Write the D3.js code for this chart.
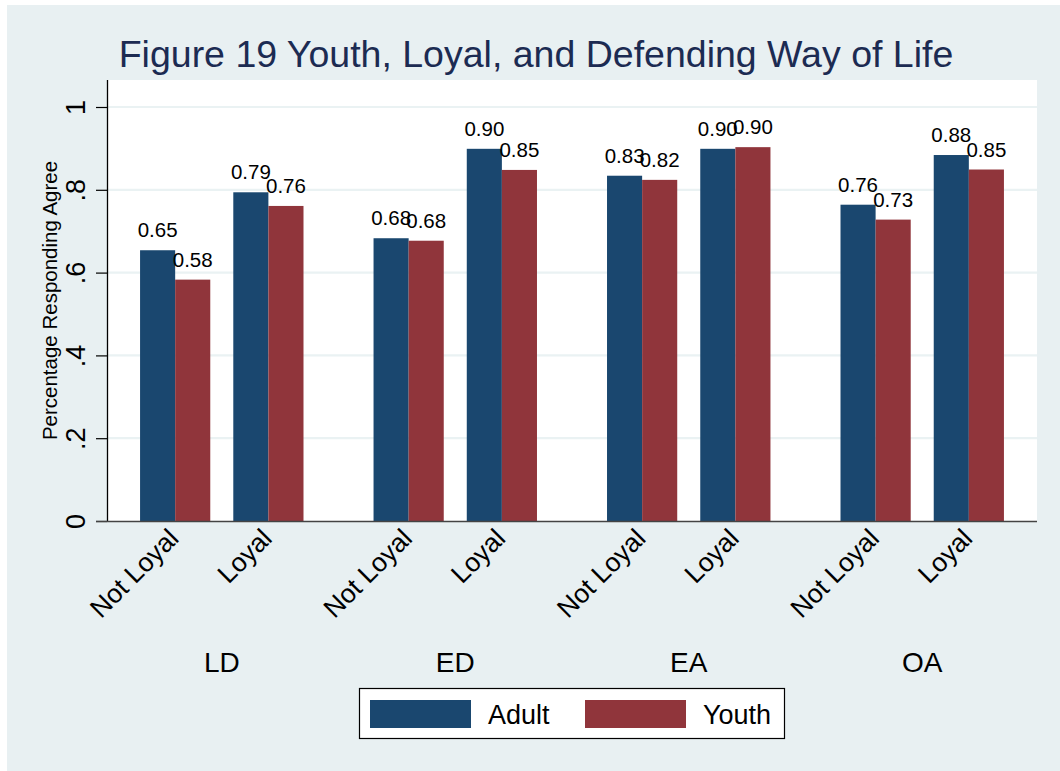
<!DOCTYPE html>
<html>
<head>
<meta charset="utf-8">
<script src="https://cdn.jsdelivr.net/npm/d3@7/dist/d3.min.js"></script>
<style>
  html, body { margin: 0; padding: 0; background: #ffffff; }
  svg { display: block; font-family: "Liberation Sans", Arial, Helvetica, sans-serif; }
</style>
</head>
<body>
<svg id="chart" width="1060" height="771"></svg>
<script>
// ---- data ----
const groups = ["LD", "ED", "EA", "OA"];
const loyalty = ["Not Loyal", "Loyal"];
const series = ["Adult", "Youth"];
// ordered: LD NotLoyal, LD Loyal, ED NotLoyal, ED Loyal, EA ..., OA ...
const adultValues = [0.654, 0.794, 0.683, 0.899, 0.834, 0.899, 0.764, 0.884];
const youthValues = [0.583, 0.761, 0.677, 0.848, 0.824, 0.903, 0.728, 0.849];
const yTicks = [0, 0.2, 0.4, 0.6, 0.8, 1];
const yTickLabels = ["0", ".2", ".4", ".6", ".8", "1"];
const titleText = "Figure 19 Youth, Loyal, and Defending Way of Life";
const yTitle = "Percentage Responding Agree";

const colors = { Adult: "#1a476f", Youth: "#90353b" };

const rows = [];
groups.forEach((g, gi) => {
  loyalty.forEach((l, li) => {
    const idx = gi * loyalty.length + li;
    rows.push({ group: g, loyal: l, Adult: adultValues[idx], Youth: youthValues[idx] });
  });
});

const svg = d3.select("#chart");
const W = 1060, H = 771;
const plot = { left: 107, right: 1037, top: 80, bottom: 521 };

// background
svg.append("rect").attr("x", 7).attr("y", 5).attr("width", W - 7).attr("height", H - 5)
  .attr("fill", "#e8f0f2");
svg.append("rect").attr("x", plot.left).attr("y", plot.top)
  .attr("width", plot.right - plot.left).attr("height", plot.bottom - plot.top)
  .attr("fill", "#ffffff");

// scales
const y = d3.scaleLinear().domain([0, 1]).range([plot.bottom, 107]);
const x0 = d3.scaleBand().domain(groups).range([plot.left, plot.right])
  .paddingInner(0.3).paddingOuter(0.1416);
const x1 = d3.scaleBand().domain(loyalty).range([0, x0.bandwidth()])
  .paddingInner(0.247).paddingOuter(0);
const x2 = d3.scaleBand().domain(series).range([0, x1.bandwidth()]).padding(0);

// grid
svg.append("g").selectAll("line").data(yTicks.filter(t => t > 0)).join("line")
  .attr("x1", plot.left).attr("x2", plot.right)
  .attr("y1", d => y(d)).attr("y2", d => y(d))
  .attr("stroke", "#eaf2f3").attr("stroke-width", 2.2);

// bars
const gGroups = svg.append("g").selectAll("g").data(rows).join("g")
  .attr("transform", d => `translate(${x0(d.group) + x1(d.loyal)},0)`);
gGroups.selectAll("rect").data(d => series.map(s => ({ s, v: d[s] }))).join("rect")
  .attr("x", d => x2(d.s)).attr("width", x2.bandwidth())
  .attr("y", d => y(d.v)).attr("height", d => y(0) - y(d.v))
  .attr("fill", d => colors[d.s]);
gGroups.selectAll("text").data(d => series.map(s => ({ s, v: d[s] }))).join("text")
  .attr("x", d => x2(d.s) + x2.bandwidth() / 2)
  .attr("y", d => y(d.v) - 13)
  .attr("text-anchor", "middle")
  .attr("font-size", 20.5).attr("fill", "#000")
  .text(d => d3.format(".2f")(d.v));

// y axis
const yAxis = d3.axisLeft(y).tickValues(yTicks)
  .tickFormat((d, i) => yTickLabels[i]).tickSize(11).tickPadding(0);
const gy = svg.append("g").attr("transform", `translate(${plot.left},0)`).call(yAxis);
gy.select(".domain").attr("stroke", "#000").attr("stroke-width", 1.3)
  .attr("d", `M0.5,${plot.top}V${plot.bottom}`);
gy.selectAll(".tick line").attr("stroke", "#000").attr("stroke-width", 1.2);
gy.selectAll(".tick text")
  .attr("font-size", 27).attr("fill", "#000")
  .attr("text-anchor", "middle")
  .attr("x", null).attr("dy", null)
  .attr("transform", "translate(-22,0) rotate(-90)");

// x axis line
svg.append("line").attr("x1", plot.left - 11).attr("x2", plot.right)
  .attr("y1", plot.bottom + 0.5).attr("y2", plot.bottom + 0.5)
  .attr("stroke", "#444").attr("stroke-width", 1.5);

// x sub-category axes
groups.forEach(g => {
  const ax = d3.axisBottom(x1).tickSize(0).tickPadding(0);
  const gx = svg.append("g").attr("transform", `translate(${x0(g)},${plot.bottom})`).call(ax);
  gx.select(".domain").remove();
  gx.selectAll(".tick text")
    .attr("font-size", 26.5).attr("fill", "#000")
    .attr("text-anchor", "end").attr("y", null).attr("dy", null)
    .attr("transform", "translate(5,19) rotate(-45)");
});

// group axis
const gAx = d3.axisBottom(x0).tickSize(0).tickPadding(0);
const gg = svg.append("g").attr("transform", `translate(0,${plot.bottom})`).call(gAx);
gg.select(".domain").remove();
gg.selectAll(".tick text").attr("font-size", 28).attr("fill", "#000")
  .attr("dy", null).attr("y", 151);

// y title
svg.append("text")
  .attr("transform", `translate(57,${(plot.top + plot.bottom) / 2}) rotate(-90)`)
  .attr("text-anchor", "middle").attr("font-size", 20.5).attr("fill", "#000")
  .text(yTitle);

// title
svg.append("text").attr("x", 536).attr("y", 67).attr("text-anchor", "middle")
  .attr("font-size", 37.5).attr("fill", "#1c2b52").text(titleText);

// legend
const lg = svg.append("g");
lg.append("rect").attr("x", 359.5).attr("y", 688.5).attr("width", 425).attr("height", 50)
  .attr("fill", "#fff").attr("stroke", "#000").attr("stroke-width", 1.2);
const legX = d3.scalePoint().domain(series).range([370, 585]);
const li = lg.selectAll("g.item").data(series).join("g").attr("class", "item")
  .attr("transform", d => `translate(${legX(d)},700)`);
li.append("rect").attr("width", 101).attr("height", 28).attr("fill", d => colors[d]);
li.append("text").attr("x", 118).attr("y", 24).attr("font-size", 27).attr("fill", "#000")
  .text(d => d);
</script>
</body>
</html>
